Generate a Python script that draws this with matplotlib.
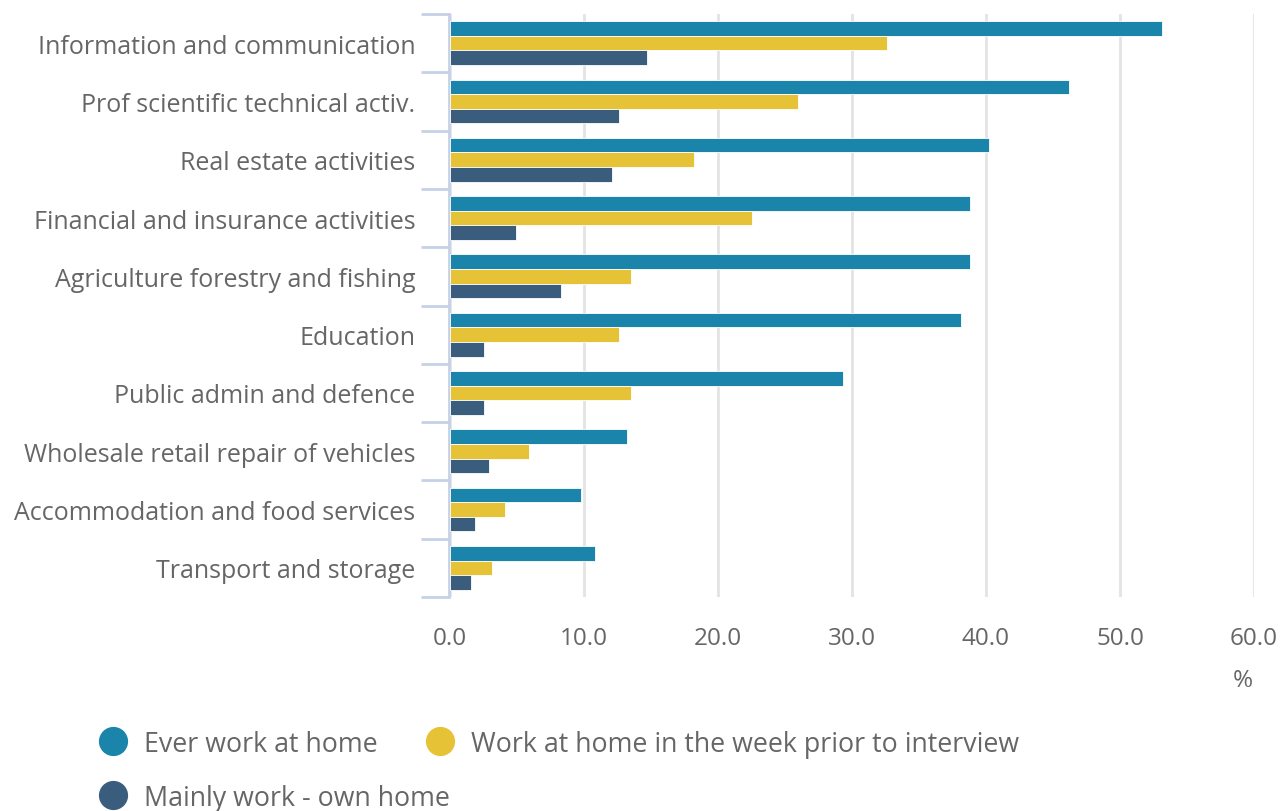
import matplotlib.pyplot as plt
import numpy as np
from matplotlib.lines import Line2D
from matplotlib.transforms import ScaledTranslation

plt.rcParams['font.family'] = ['Open Sans', 'DejaVu Sans']

categories = [
    "Information and communication",
    "Prof scientific technical activ.",
    "Real estate activities",
    "Financial and insurance activities",
    "Agriculture forestry and fishing",
    "Education",
    "Public admin and defence",
    "Wholesale retail repair of vehicles",
    "Accommodation and food services",
    "Transport and storage",
]
ever_home = [53.1, 46.2, 40.2, 38.8, 38.8, 38.1, 29.3, 13.2, 9.8, 10.8]
week_home = [32.6, 26.0, 18.2, 22.5, 13.5, 12.6, 13.5, 5.9, 4.1, 3.1]
mainly_home = [14.7, 12.6, 12.1, 4.9, 8.3, 2.5, 2.5, 2.9, 1.9, 1.6]
series_names = ["Ever work at home", "Work at home in the week prior to interview",
                "Mainly work - own home"]
colors = ["#1a84aa", "#e6c236", "#3a5d7e"]
xticks = [0, 10, 20, 30, 40, 50, 60]

text_col = "#666666"
spine_col = "#c6d1e8"

fig = plt.figure(figsize=(12.88, 8.12), dpi=100)
ax = fig.add_axes([450 / 1288, 1 - 598 / 812, (1254 - 450) / 1288, (598 - 15) / 812])

y = np.arange(len(categories))
h = 0.25
for i, (vals, c) in enumerate(zip([ever_home, week_home, mainly_home], colors)):
    ax.barh(y - h + i * h, vals, height=h, color=c, edgecolor="white",
            linewidth=0.6, zorder=3)

ax.set_xlim(0, 60)
ax.set_ylim(len(categories) - 0.5, -0.5)
ax.set_xticks(xticks)
ax.set_xticklabels([f"{v:.1f}" for v in xticks])
ax.set_yticks(y)
ax.set_yticklabels(categories)

# boundary ticks on the category axis
ax.set_yticks(np.arange(-0.5, len(categories), 1), minor=True)
ax.tick_params(axis="y", which="major", length=0, pad=24, labelsize=18,
               labelcolor=text_col)
ax.tick_params(axis="y", which="minor", length=20, width=2, color=spine_col)
ax.tick_params(axis="x", length=0, pad=21, labelsize=17.5, labelcolor=text_col)

# nudge category labels down a touch
shift = ScaledTranslation(0, -2 / 100, fig.dpi_scale_trans)
for lbl in ax.get_yticklabels():
    lbl.set_transform(lbl.get_transform() + shift)

ax.grid(axis="x", color="#e3e3e3", linewidth=2, zorder=0)
for s in ["top", "right", "bottom"]:
    ax.spines[s].set_visible(False)
ax.spines["left"].set_color(spine_col)
ax.spines["left"].set_linewidth(2)
ax.spines["left"].set_position(("outward", 1))

fig.text(1243 / 1288, 1 - 681 / 812, "%", ha="center", va="center",
         fontsize=17.5, color=text_col)

# legend
legend_pos = [(113, 742), (440, 742), (113, 796)]
for name, c, (px, py) in zip(series_names, colors, legend_pos):
    fig.add_artist(Line2D([px / 1288], [1 - py / 812], marker="o", markersize=20,
                          color=c, linestyle="none", transform=fig.transFigure))
    fig.text((px + 31) / 1288, 1 - (py + 3) / 812, name, ha="left", va="center",
             fontsize=19.3, color=text_col)

fig.savefig("out.png", dpi=100)
